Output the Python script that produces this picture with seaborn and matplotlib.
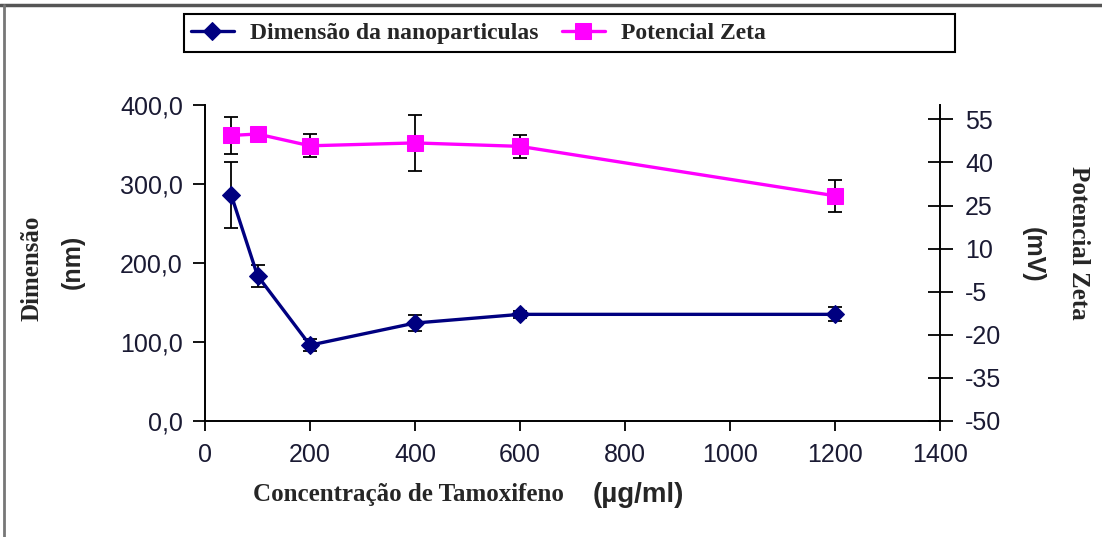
import matplotlib
matplotlib.use("Agg")
import matplotlib.pyplot as plt
import seaborn as sns
import pandas as pd
from matplotlib.patches import Rectangle
from matplotlib.lines import Line2D
from matplotlib.ticker import FuncFormatter, FixedLocator

# ---- data ----
concentracao = [50, 100, 200, 400, 600, 1200]          # µg/ml
dimensao_nm = [286, 184, 96, 124, 135, 135]
dimensao_err = [42, 14, 8, 10, 4, 9]
zeta_mv = [49.4, 49.9, 45.8, 46.8, 45.6, 28.4]
zeta_err = [6.3, 1.0, 4.0, 9.8, 4.0, 5.6]

x_ticks = [0, 200, 400, 600, 800, 1000, 1200, 1400]
dim_ticks = [0, 100, 200, 300, 400]
zeta_ticks = [-50, -35, -20, -5, 10, 25, 40, 55]

label_dim = "Dimensão da nanoparticulas"
label_zeta = "Potencial Zeta"

df = pd.DataFrame({"conc": concentracao, "dim": dimensao_nm, "zeta": zeta_mv})

sns.set_theme(style="white")
plt.rcParams['font.family'] = ['Liberation Sans', 'DejaVu Sans']
plt.rcParams['axes.unicode_minus'] = False

W, H = 1102, 537
fig = plt.figure(figsize=(W / 100, H / 100), dpi=100)
fig.patch.set_facecolor("white")

ax = fig.add_axes([205 / W, 1 - 421 / H, 735 / W, 316 / H])
ax2 = ax.twinx()

# error bars (behind the markers)
ax.errorbar(concentracao, dimensao_nm, yerr=dimensao_err, fmt='none',
            ecolor='black', elinewidth=1.3, capsize=5, capthick=1.3, zorder=1)
ax2.errorbar(concentracao, zeta_mv, yerr=zeta_err, fmt='none',
             ecolor='black', elinewidth=1.3, capsize=5, capthick=1.3, zorder=1)

sns.lineplot(data=df, x="conc", y="dim", ax=ax, color="#000080", marker="D",
             markersize=9, markeredgecolor="#000080", linewidth=2.4,
             label=label_dim, zorder=3)
sns.lineplot(data=df, x="conc", y="zeta", ax=ax2, color="#FF00FF", marker="s",
             markersize=11, markeredgecolor="#FF00FF", linewidth=2.4,
             label=label_zeta, zorder=3)

for a in (ax, ax2):
    if a.get_legend() is not None:
        a.get_legend().remove()
    a.set_xlabel("")
    a.set_ylabel("")
    a.set_facecolor("none")
    a.grid(False)

ax.set_xlim(0, 1400)
ax.set_ylim(0, 400)
ax2.set_ylim(-50, 60)
ax.xaxis.set_major_locator(FixedLocator(x_ticks))
ax.yaxis.set_major_locator(FixedLocator(dim_ticks))
ax2.yaxis.set_major_locator(FixedLocator(zeta_ticks))
ax.yaxis.set_major_formatter(FuncFormatter(lambda v, p: f"{v:.1f}".replace('.', ',')))
ax2.yaxis.set_major_formatter(FuncFormatter(lambda v, p: f"{int(v)}"))
ax.set_xticklabels([str(v) for v in x_ticks])

for s in ("top", "right"):
    ax.spines[s].set_visible(False)
for s in ("left", "bottom"):
    ax.spines[s].set_color("black")
    ax.spines[s].set_linewidth(1.4)
for s in ("top", "left", "bottom"):
    ax2.spines[s].set_visible(False)
ax2.spines["right"].set_color("black")
ax2.spines["right"].set_linewidth(1.4)

tick_color = "#1a1a33"
ax.tick_params(axis='y', direction='out', length=9, width=1.3, pad=7,
               labelsize=18, colors='black', labelcolor=tick_color, left=True)
ax.tick_params(axis='x', direction='out', length=7, width=1.3, pad=9,
               labelsize=18, colors='black', labelcolor=tick_color, bottom=True)
ax2.tick_params(axis='y', direction='inout', length=18, width=1.3, pad=9,
                labelsize=18, colors='black', labelcolor=tick_color, right=True)

serif_b = dict(family=['Liberation Serif', 'DejaVu Serif'], weight='bold')
sans_b = dict(family=['Liberation Sans', 'DejaVu Sans'], weight='bold')

fig.text(253 / W, 1 - 495 / H, "Concentração de Tamoxifeno", ha='left', va='center',
         fontsize=18, **serif_b)
fig.text(593 / W, 1 - 495 / H, "(µg/ml)", ha='left', va='center', fontsize=20, **sans_b)
fig.text(32 / W, 1 - 268 / H, "Dimensão", rotation=90, ha='center', va='center',
         fontsize=18, **serif_b)
fig.text(73 / W, 1 - 262 / H, "(nm)", rotation=90, ha='center', va='center',
         fontsize=18, **sans_b)
fig.text(1033 / W, 1 - 255 / H, "(mV)", rotation=270, ha='center', va='center',
         fontsize=18, **sans_b)
fig.text(1078 / W, 1 - 243 / H, "Potencial Zeta", rotation=270, ha='center', va='center',
         fontsize=18, **serif_b)

h1, l1 = ax.get_legend_handles_labels()
h2, l2 = ax2.get_legend_handles_labels()
fig.legend(h1 + h2, l1 + l2, loc='center left', bbox_to_anchor=(191 / W, 1 - 33 / H),
           ncol=2, frameon=False, borderpad=0, borderaxespad=0, handlelength=1.8,
           handletextpad=0.7, columnspacing=1.0,
           prop=dict(family=['Liberation Serif', 'DejaVu Serif'], weight='bold', size=17))

fig.add_artist(Rectangle((184 / W, 1 - 52 / H), (955 - 184) / W, 38 / H,
                         transform=fig.transFigure, fill=False, edgecolor='black',
                         linewidth=1.5))
fig.add_artist(Line2D([0, 1], [1 - 5 / H, 1 - 5 / H], transform=fig.transFigure,
                      color='#555555', linewidth=2.5))
fig.add_artist(Line2D([4 / W, 4 / W], [0, 1 - 5 / H], transform=fig.transFigure,
                      color='#777777', linewidth=2.0))

fig.savefig("out.png", dpi=100)
